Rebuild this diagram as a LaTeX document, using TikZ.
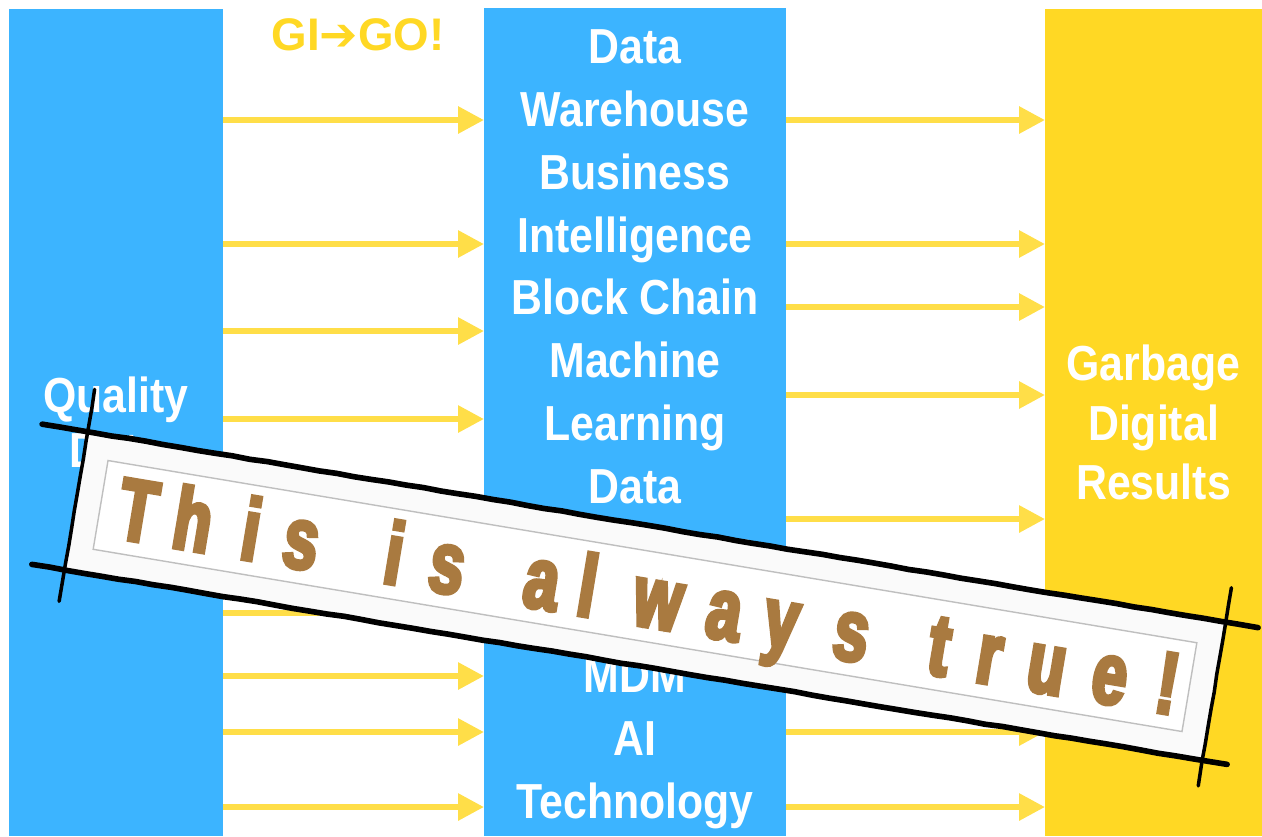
\documentclass[tikz,border=0pt]{standalone}
\usepackage{fontspec}
\setmainfont{Liberation Sans}
\newfontfamily\narrowfont[FakeStretch=0.87]{Liberation Sans}
\newfontfamily\stampfont[FakeStretch=0.70,FakeBold=4.5]{Liberation Sans}
\newfontfamily\arrowfont{DejaVu Sans}
\usepackage{xcolor}
\usepackage{tikz}
\usetikzlibrary{arrows.meta,decorations.pathmorphing}

\definecolor{colblue}{RGB}{60,180,255}
\definecolor{colyellow}{RGB}{255,216,36}
\definecolor{arryellow}{RGB}{255,222,72}
\definecolor{stampbrown}{RGB}{169,122,64}

\begin{document}
\begin{tikzpicture}[x=1cm, y=-1cm,
    column/.style={anchor=north west, inner sep=0pt, outer sep=0pt, align=center, text=white,
        font=\narrowfont\bfseries\fontsize{14}{17}\selectfont},
    feed/.style={arryellow, line width=0.06cm, -{Triangle[length=0.26cm, width=0.26cm]}},
    stamp/.style={anchor=base, inner sep=0pt, text=stampbrown, transform shape,
        font=\stampfont\bfseries\fontsize{25}{26}\selectfont},
    rough/.style={black, line width=1.6pt, line cap=round, decorate,
        decoration={random steps, segment length=5pt, amplitude=0.12pt}}]
    \useasboundingbox (0,0) rectangle (12.62,8.36);

    % Columns
    \node[column, fill=colblue, minimum width=2.14cm, minimum height=8.27cm,
        font=\narrowfont\bfseries\fontsize{14}{15.6}\selectfont] (qual) at (0.09,0.09) {Quality\\Data};
    \node[column, fill=colblue, minimum width=3.02cm, minimum height=8.28cm] (tech) at (4.84,0.08) {};
    \node[column, fill=colyellow, minimum width=2.17cm, minimum height=8.27cm] (garb) at (10.45,0.09) {Garbage\\Digital\\Results};
    \node[column, anchor=center, font=\narrowfont\bfseries\fontsize{14}{17.9}\selectfont] (techtxt)
        at ([yshift=-0.07cm]tech.center) {Data\\Warehouse\\Business\\Intelligence\\Block Chain\\Machine\\Learning\\Data\\Governance\\[17.9pt]MDM\\AI\\Technology};
    \node[text=colyellow, font=\bfseries\fontsize{13}{15}\selectfont] (gigo) at (3.58,0.35) {GI{\arrowfont\bfseries ➔}GO!};

    % Arrows in
    \foreach \y in {1.20,2.44,3.31,4.19,6.13,6.76,7.32,8.07}
        \draw[feed] (qual.east |- 0,\y) -- (tech.west |- 0,\y);
    % Arrows out
    \foreach \y in {1.20,2.44,3.07,3.95,5.19,7.32,8.07}
        \draw[feed] (tech.east |- 0,\y) -- (garb.west |- 0,\y);

    % Stamp
    \begin{scope}[shift={(6.45,5.96)}, rotate=-9.5]
        \fill[black!2] (-5.77,-0.70) rectangle (5.77,0.70);
        \draw[black!25, fill=white, line width=0.4pt] (-5.52,-0.45) rectangle (5.52,0.45);
        \foreach \ch/\pos [count=\i] in {T/-5.14,h/-4.58,i/-3.99,s/-3.48,i/-2.54,s/-2.00,
                a/-1.04,l/-0.58,w/0.14,a/0.81,y/1.39,s/2.10,t/2.99,r/3.50,u/4.08,e/4.72,!/5.30}
            \node[stamp] (ltr\i) at (\pos,0.30) {\ch};
        \draw[rough] (-6.23,-0.70) -- (6.10,-0.70);
        \draw[rough] (-6.10,0.70) -- (6.02,0.70);
        \draw[rough, line width=1pt] (-5.77,-1.13) -- (-5.77,1.02);
        \draw[rough, line width=1pt] (5.77,-1.05) -- (5.77,0.96);
    \end{scope}
\end{tikzpicture}
\end{document}
